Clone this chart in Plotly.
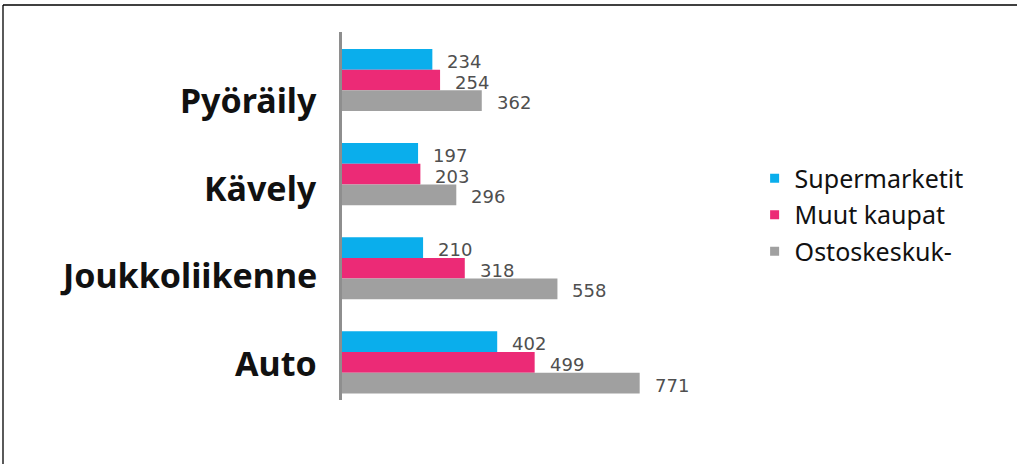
import plotly.graph_objects as go

# Travel mode categories (top to bottom) and spending per shop type
categories = ["Pyöräily", "Kävely", "Joukkoliikenne", "Auto"]
series_names = ["Supermarketit", "Muut kaupat", "Ostoskeskuk-"]
supermarketit = [234, 197, 210, 402]
muut_kaupat = [254, 203, 318, 499]
ostoskeskukset = [362, 296, 558, 771]

series_values = [supermarketit, muut_kaupat, ostoskeskukset]
colors = ["#0AAEEC", "#EC2A76", "#A0A0A0"]

bar_h = 0.22          # bar thickness in category units
offsets = [-bar_h, 0.0, bar_h]

fig = go.Figure()

for name, vals, col, off in zip(series_names, series_values, colors, offsets):
    ypos = [i + off for i in range(len(categories))]
    fig.add_trace(go.Bar(
        x=vals, y=ypos, orientation="h", width=bar_h,
        marker=dict(color=col, line=dict(width=0)),
        name=name, showlegend=False, hoverinfo="x",
    ))
    # value labels just right of each bar
    for v, yy in zip(vals, ypos):
        fig.add_annotation(
            x=v, y=yy, xref="x", yref="y", text=str(v), showarrow=False,
            xanchor="left", yanchor="middle", xshift=13, yshift=-2,
            font=dict(family="DejaVu Sans", size=18, color="#4F4F4F"),
        )

# legend entries with small square keys
for i, (name, col) in enumerate(zip(series_names, colors)):
    fig.add_trace(go.Scatter(
        x=[None], y=[None], mode="markers", name=name,
        marker=dict(symbol="square", size=9, color=col),
        legendgroup=f"g{i}",
    ))

# category names on the left
label_step = 0.933
for i, cat in enumerate(categories):
    fig.add_annotation(
        x=0, y=0.21 + i * label_step, xref="paper", yref="y", text=cat,
        showarrow=False, xanchor="right", yanchor="middle", xshift=-23,
        font=dict(family="Noto Sans", size=34, color="#111111", weight="bold"),
    )

# frame lines along the top and left edge
fig.add_shape(type="line", xref="paper", yref="paper",
              x0=-0.8475, x1=1.69, y0=1.0735, y1=1.0735,
              line=dict(color="#000000", width=1.6))
fig.add_shape(type="line", xref="paper", yref="paper",
              x0=-0.8475, x1=-0.8475, y0=1.0735, y1=-0.2,
              line=dict(color="#000000", width=1.3))

fig.update_layout(
    width=1017, height=464,
    margin=dict(l=342, r=275, t=32, b=64),
    paper_bgcolor="#FFFFFF", plot_bgcolor="#FFFFFF",
    barmode="overlay",
    xaxis=dict(range=[0, 1036], visible=False, fixedrange=True),
    yaxis=dict(range=[3.40, -0.51], showline=True, linecolor="#8E8E8E",
               linewidth=3, showticklabels=False, ticks="", showgrid=False,
               zeroline=False, fixedrange=True),
    legend=dict(
        xref="container", yref="container", x=0.742, y=0.665,
        xanchor="left", yanchor="top",
        font=dict(family="Noto Sans", size=25, color="#111111"),
        tracegroupgap=1, bgcolor="rgba(0,0,0,0)",
    ),
    showlegend=True,
)

fig.write_html("out.html")
